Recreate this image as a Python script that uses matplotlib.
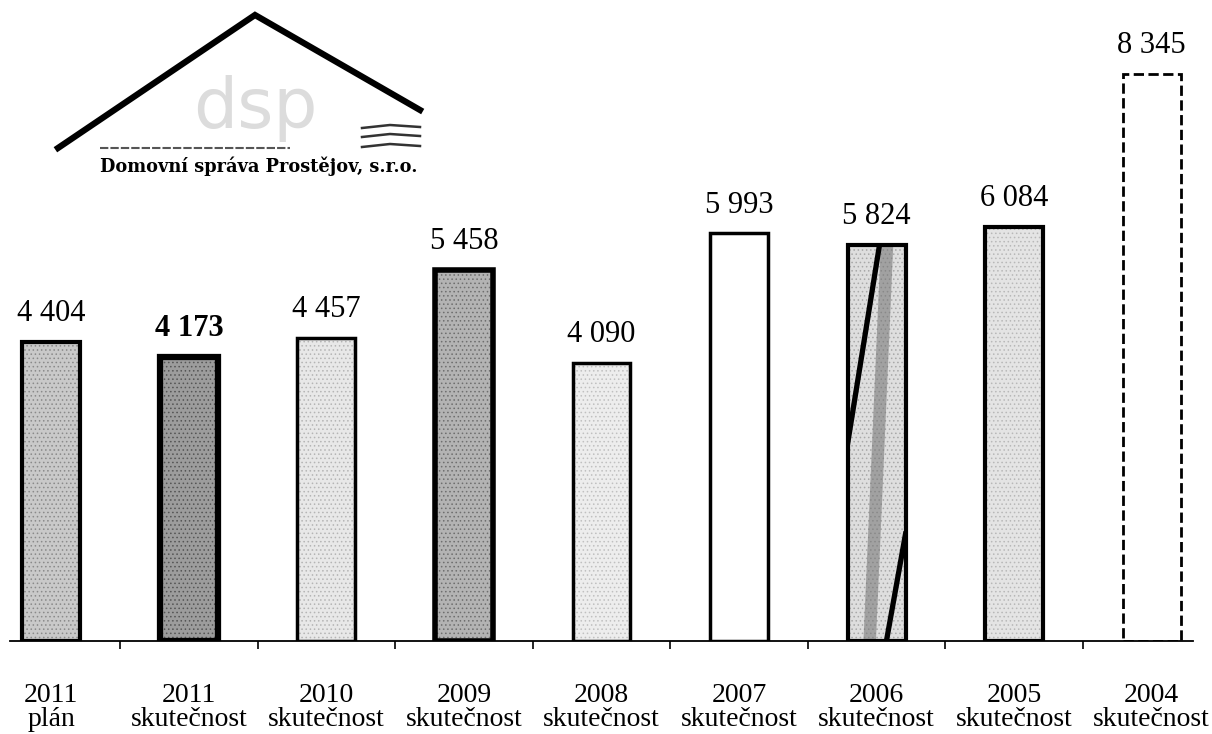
import numpy as np
import matplotlib
matplotlib.use('Agg')
import matplotlib.pyplot as plt
from matplotlib.patches import Rectangle

# data
years = ['2011', '2011', '2010', '2009', '2008', '2007', '2006', '2005', '2004']
kinds = ['plán', 'skutečnost', 'skutečnost', 'skutečnost', 'skutečnost',
         'skutečnost', 'skutečnost', 'skutečnost', 'skutečnost']
values = [4404, 4173, 4457, 5458, 4090, 5993, 5824, 6084, 8345]
value_labels = ['4 404', '4 173', '4 457', '5 458', '4 090', '5 993', '5 824', '6 084', '8 345']

# per-bar look
fills = ['#c9c9c9', '#9c9c9c', '#e8e8e8', '#b3b3b3', '#ededed', 'white', '#dedede', '#e4e4e4', 'none']
hatch_cols = ['#8a8a8a', '#555555', '#b5b5b5', '#6e6e6e', '#c0c0c0', 'white', '#a8a8a8', '#b8b8b8', 'none']
edge_w = [3.0, 4.5, 2.5, 4.0, 2.5, 2.5, 3.0, 3.0, 2.0]
styles = ['solid'] * 8 + ['dashed']

plt.rcParams['font.family'] = ['Liberation Serif', 'DejaVu Serif']
plt.rcParams['hatch.linewidth'] = 0.6

W, H = 1212, 734
fig = plt.figure(figsize=(W / 100, H / 100), dpi=100)

# logo (pixel coordinates of the figure), behind the chart
lg = fig.add_axes([0, 0, 1, 1], zorder=0)
lg.set_xlim(0, W)
lg.set_ylim(H, 0)
lg.axis('off')
lg.plot([58, 255, 420], [148, 15, 110], color='black', lw=4.5, solid_joinstyle='miter')
lg.plot([100, 290], [148, 148], color='#555555', lw=1.5, ls=(0, (4, 1)))
lg.text(255, 108, 'dsp', fontsize=50, color='#dcdcdc', ha='center', va='center',
        family=['DejaVu Sans'])
for yy in (126, 135, 145):
    lg.plot([362, 390, 420], [yy + 2, yy - 1, yy + 1], color='#333333', lw=1.8)
lg.text(100, 166, 'Domovní správa Prostějov, s.r.o.', fontsize=12.8,
        fontweight='bold', va='center', ha='left', family=['DejaVu Serif'])

ax = fig.add_axes([10 / W, 93 / H, 1183 / W, 612 / H], zorder=1)
ax.patch.set_visible(False)

x = np.arange(len(values))
bw = 0.42

# stippled fill first, outline on top
ax.bar(x, values, width=bw, color=fills, edgecolor=hatch_cols, linewidth=0,
       hatch='....', zorder=1)
bars = ax.bar(x, values, width=bw, facecolor='none', edgecolor='black', zorder=3)
for b, lw, ls in zip(bars, edge_w, styles):
    b.set_linewidth(lw)
    b.set_linestyle(ls)

# 2006 bar: twisted stripe look
b = bars[6]
x0, w, h = b.get_x(), b.get_width(), b.get_height()
clip = Rectangle((x0, 0), w, h, transform=ax.transData)
streak, = ax.plot([x0 + 0.68 * w, x0 + 0.38 * w], [h, 0], color='#707070',
                  lw=9, alpha=0.55, solid_capstyle='butt', zorder=2)
l1, = ax.plot([x0 + 0.55 * w, x0], [h, 0.5 * h], color='black', lw=3.8, zorder=2)
l2, = ax.plot([x0 + w, x0 + 0.67 * w], [0.27 * h, 0], color='black', lw=3.8, zorder=2)
for art in (streak, l1, l2):
    art.set_clip_path(clip)

# value labels
for i, (v, lab) in enumerate(zip(values, value_labels)):
    ax.annotate(lab, (x[i], v), xytext=(0, 10), textcoords='offset points',
                ha='center', va='bottom', fontsize=22,
                fontweight='bold' if i == 1 else 'normal')

ax.set_xlim(-0.3, len(values) - 0.7)
ax.set_ylim(0, 9000)
ax.set_xticks(x)
ax.set_xticklabels([f'{y}\n{k}' for y, k in zip(years, kinds)], fontsize=20,
                   linespacing=0.95)
ax.tick_params(axis='x', which='major', length=0, pad=30)
ax.set_xticks(x[:-1] + 0.5, minor=True)
ax.tick_params(axis='x', which='minor', length=6, width=1.2, direction='out')
ax.set_yticks([])
for s in ['top', 'right', 'left']:
    ax.spines[s].set_visible(False)
ax.spines['bottom'].set_linewidth(1.3)

fig.savefig('out.png', dpi=100, facecolor='white')
